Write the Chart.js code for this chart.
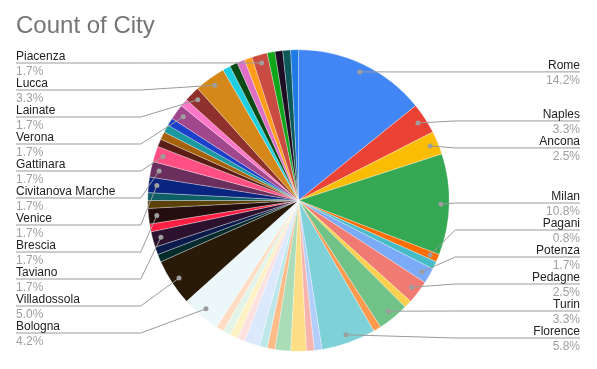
<!DOCTYPE html>
<html><head><meta charset="utf-8">
<script src="https://cdn.jsdelivr.net/npm/chart.js@4.4.1/dist/chart.umd.min.js"></script>
<style>html,body{margin:0;padding:0;background:#fff}#wrap{width:597px;height:369px;position:relative}</style>
</head><body><div id="wrap"><canvas id="c" width="597" height="369"></canvas></div>
<script>
const chartTitle = 'Count of City';
const cities = ['Rome','Naples','Ancona','Milan','Pagani','','Potenza','Pedagne','','Turin','','Florence',
  '','','','','','','','','','','',
  'Bologna','Villadossola','','','Taviano','','Brescia','','','Venice','Civitanova Marche','Gattinara',
  '','','','','Verona','','Lainate','Lucca','','','','','Piacenza','','','',''];
const counts = [17,4,3,13,1,1,2,3,1,4,1,7,
  1,1,2,2,1,1,2,1,1,1,1,
  5,6,1,1,2,1,2,1,1,2,2,2,
  1,1,1,1,2,1,2,4,1,1,1,1,2,1,1,1,1];
const colors = ['#4285F4','#EA4335','#FBBC04','#34A853','#FF6D01','#46BDC6','#7BAAF7','#F07B72','#FCD04F','#71C287','#FF994D','#7ED1D7',
  '#B3CEFB','#F7B4AE','#FDDE87','#AADCB8','#FFBB88','#BEE7EA','#DCE8FC','#FBE1DF','#FEF1C3','#E2F3E7','#FFDDC4',
  '#EBF7F8','#291A07','#042B2B','#0A1A4A','#2D1230','#FF1F43','#230D0D','#5C4107','#0E5E66','#0A2580','#6B2F5E','#FF4F83',
  '#5A1D16','#A6620A','#1A9AA0','#1A40CC','#A1478D','#FF78C8','#8F302C','#D4881A','#1ECFE0','#0B4A14','#DF6FC6','#FF9C1A','#C94B42','#0FA61A','#1C0C24','#0E5A5A','#1F7AE6'];

const FONT = "'Liberation Sans', Arial, sans-serif";

function layoutSide(list, gap, minY, maxY) {
  const place = g => {
    const n = g.items.length;
    let top = g.sum / n - gap * (n - 1) / 2;
    top = Math.max(minY, Math.min(top, maxY - gap * (n - 1)));
    g.top = top;
  };
  const groups = list.map(it => ({ items: [it], sum: it.y }));
  groups.forEach(place);
  let changed = true;
  while (changed) {
    changed = false;
    for (let k = 0; k < groups.length - 1; k++) {
      const a = groups[k], b = groups[k + 1];
      if (a.top + gap * a.items.length > b.top + 1e-6) {
        const m = { items: a.items.concat(b.items), sum: a.sum + b.sum };
        place(m);
        groups.splice(k, 2, m);
        changed = true;
        break;
      }
    }
  }
  groups.forEach(g => g.items.forEach((it, j) => { it.ly = g.top + j * gap; }));
}

const labelPlugin = {
  id: 'sheetLabels',
  afterDraw(chart) {
    const ctx = chart.ctx;
    const meta = chart.getDatasetMeta(0);
    const total = counts.reduce((a, b) => a + b, 0);
    ctx.save();
    ctx.fillStyle = '#757575';
    ctx.font = '24px ' + FONT;
    ctx.textAlign = 'left';
    ctx.textBaseline = 'alphabetic';
    ctx.fillText(chartTitle, 16, 33);
    const items = [];
    let cx = 0, R = 0;
    meta.data.forEach((arc, i) => {
      cx = arc.x; R = arc.outerRadius;
      if (!cities[i]) return;
      const mid = (arc.startAngle + arc.endAngle) / 2;
      const r = arc.outerRadius * 0.945;
      items.push({
        i, x: arc.x + Math.cos(mid) * r, y: arc.y + Math.sin(mid) * r,
        right: Math.cos(mid) >= 0,
        pct: (counts[i] / total * 100).toFixed(1) + '%'
      });
    });
    [true, false].forEach(side => {
      const list = items.filter(it => it.right === side).sort((a, b) => a.y - b.y);
      layoutSide(list, 27, 63, 338);
    });
    items.forEach(it => {
      const bx = it.right ? cx + R + 6 : cx - R - 7;
      const ex = it.right ? 580 : 16;
      ctx.strokeStyle = '#9a9a9a';
      ctx.lineWidth = 1;
      ctx.beginPath();
      ctx.moveTo(it.x, it.y);
      ctx.lineTo(bx, it.ly);
      ctx.lineTo(ex, it.ly);
      ctx.stroke();
      ctx.fillStyle = '#9e9e9e';
      ctx.beginPath();
      ctx.arc(it.x, it.y, 2.5, 0, Math.PI * 2);
      ctx.fill();
      ctx.font = '12px ' + FONT;
      ctx.textAlign = it.right ? 'right' : 'left';
      ctx.fillStyle = '#222222';
      ctx.fillText(cities[it.i], ex, it.ly - 3);
      ctx.fillStyle = '#a0a0a0';
      ctx.fillText(it.pct, ex, it.ly + 12);
    });
    ctx.restore();
  }
};

new Chart(document.getElementById('c'), {
  type: 'pie',
  data: {
    labels: cities,
    datasets: [{
      data: counts,
      backgroundColor: colors,
      borderColor: 'rgba(255,255,255,0.6)',
      borderWidth: 0.5
    }]
  },
  options: {
    responsive: false,
    devicePixelRatio: 1,
    animation: false,
    layout: { padding: { top: 49.5, bottom: 17.5, left: 0, right: 0 } },
    plugins: { legend: { display: false }, tooltip: { enabled: false }, title: { display: false } }
  },
  plugins: [labelPlugin]
});
</script>
</body></html>
